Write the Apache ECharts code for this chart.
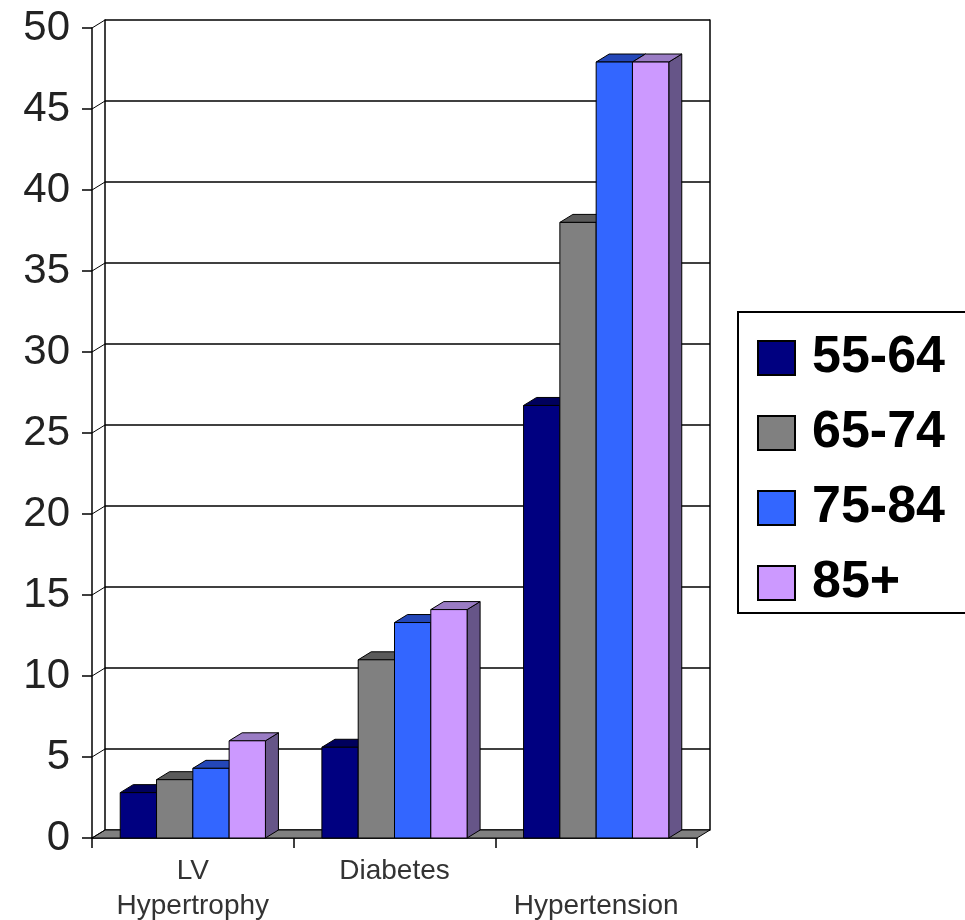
<!DOCTYPE html>
<html>
<head>
<meta charset="utf-8">
<script src="https://cdn.jsdelivr.net/npm/echarts@6/dist/echarts.min.js"></script>
<style>
html, body { margin: 0; padding: 0; background: #fff; }
#chart { width: 965px; height: 920px; }
</style>
</head>
<body>
<div id="chart"></div>
<script>
// data
var categories = ['LV Hypertrophy', 'Diabetes', 'Hypertension'];
var ageGroups = ['55-64', '65-74', '75-84', '85+'];
var age5564 = [2.8, 5.6, 26.7];
var age6574 = [3.6, 11.0, 38.0];
var age7584 = [4.3, 13.3, 47.9];
var age85 = [6.0, 14.1, 47.9];
var yTicks = [0, 5, 10, 15, 20, 25, 30, 35, 40, 45, 50];

var values = [age5564, age6574, age7584, age85];
// front / top / side colours of each group
var faces = [
  ['#000080', '#00005c', '#000050'],
  ['#808080', '#5a5a5a', '#4d4d4d'],
  ['#3366ff', '#2447b8', '#1f3d9e'],
  ['#cc99ff', '#9a7cc4', '#665588']
];
var DX = 13, DY = 8; // depth offset

var chart = echarts.init(document.getElementById('chart'));

function barRender(k) {
  return function (params, api) {
    var band = api.size([1, 0])[0];
    var groupW = band * 0.72;
    var barW = groupW / 4;
    var tip = api.coord([api.value(0), api.value(1)]);
    var base = api.coord([api.value(0), 0]);
    var x0 = tip[0] - groupW / 2 + k * barW;
    var x1 = x0 + barW;
    var yt = tip[1], yb = base[1];
    var st = { stroke: '#000', lineWidth: 1 };
    return {
      type: 'group',
      children: [
        { type: 'polygon', shape: { points: [[x1, yt], [x1 + DX, yt - DY], [x1 + DX, yb - DY], [x1, yb]] },
          style: echarts.util.extend({ fill: faces[k][2] }, st) },
        { type: 'polygon', shape: { points: [[x0, yt], [x0 + DX, yt - DY], [x1 + DX, yt - DY], [x1, yt]] },
          style: echarts.util.extend({ fill: faces[k][1] }, st) },
        { type: 'rect', shape: { x: x0, y: yt, width: barW, height: yb - yt },
          style: echarts.util.extend({ fill: faces[k][0] }, st) }
      ]
    };
  };
}

var series = [];

// floor of the plot
series.push({
  type: 'custom',
  xAxisIndex: 0, yAxisIndex: 0,
  silent: true,
  z: 1,
  data: [[0, 0]],
  renderItem: function (params, api) {
    var cs = params.coordSys;
    var yb = cs.y + cs.height;
    return {
      type: 'polygon',
      shape: { points: [[cs.x, yb], [cs.x + DX, yb - DY], [cs.x + cs.width + DX, yb - DY], [cs.x + cs.width, yb]] },
      style: { fill: '#808080', stroke: '#000', lineWidth: 1 }
    };
  }
});

// little slanted joins from the front ticks to the back wall
series.push({
  type: 'custom',
  xAxisIndex: 0, yAxisIndex: 0,
  silent: true,
  z: 1,
  data: yTicks.map(function (v) { return [0, v]; }),
  renderItem: function (params, api) {
    var cs = params.coordSys;
    var y = api.coord([0, api.value(1)])[1];
    return {
      type: 'line',
      shape: { x1: cs.x, y1: y, x2: cs.x + DX, y2: y - DY },
      style: { stroke: '#000', lineWidth: 1 }
    };
  }
});

for (var k = 0; k < ageGroups.length; k++) {
  series.push({
    name: ageGroups[k],
    type: 'custom',
    xAxisIndex: 0, yAxisIndex: 0,
    z: 3,
    itemStyle: { color: faces[k][0], borderColor: '#000', borderWidth: 1 },
    data: values[k].map(function (v, i) { return [i, v]; }),
    renderItem: barRender(k)
  });
}

chart.setOption({
  backgroundColor: '#fff',
  animation: false,
  textStyle: { fontFamily: 'Liberation Sans, Arial, sans-serif' },
  grid: [
    { left: 92, right: 268, top: 28, bottom: 82, outerBoundsMode: 'none' },          // front
    { left: 92 + DX, right: 268 - DX, top: 28 - DY, bottom: 82 + DY, outerBoundsMode: 'none' } // back wall
  ],
  legend: {
    orient: 'vertical',
    left: 738,
    top: 312,
    padding: [20, 60, 4, 19],
    borderColor: '#000',
    borderWidth: 2,
    itemWidth: 37,
    itemHeight: 34,
    itemGap: 23,
    icon: 'rect',
    data: ageGroups,
    textStyle: { fontSize: 52, fontWeight: 'bold', color: '#000', lineHeight: 52, padding: [0, 0, 0, 12] }
  },
  xAxis: [
    {
      gridIndex: 0,
      type: 'category',
      data: categories,
      boundaryGap: true,
      axisLine: { show: true, lineStyle: { color: '#000', width: 1.5 } },
      axisTick: { show: true, alignWithLabel: false, length: 10, lineStyle: { color: '#000', width: 1.5 } },
      axisLabel: {
        interval: 0,
        margin: 16,
        fontSize: 28,
        lineHeight: 35,
        color: '#333',
        formatter: function (v, i) {
          if (v === 'LV Hypertrophy') return 'LV\nHypertrophy';
          if (i === 2) return '\n' + v;
          return v;
        }
      },
      splitLine: { show: false }
    },
    { gridIndex: 1, type: 'category', data: categories, show: false }
  ],
  yAxis: [
    {
      gridIndex: 0,
      type: 'value',
      min: 0, max: 50, interval: 5,
      axisLine: { show: true, lineStyle: { color: '#000', width: 1.5 } },
      axisTick: { show: true, length: 10, lineStyle: { color: '#000', width: 1.5 } },
      axisLabel: { fontSize: 42, color: '#222', margin: 22 },
      splitLine: { show: false }
    },
    {
      gridIndex: 1,
      type: 'value',
      min: 0, max: 50, interval: 5,
      axisLine: { show: true, lineStyle: { color: '#000', width: 1.5 } },
      axisTick: { show: false },
      axisLabel: { show: false },
      splitLine: { show: true, lineStyle: { color: '#000', width: 1.5 } }
    },
    {
      gridIndex: 1,
      type: 'value',
      position: 'right',
      min: 0, max: 50, interval: 5,
      axisLine: { show: true, lineStyle: { color: '#000', width: 1.5 } },
      axisTick: { show: false },
      axisLabel: { show: false },
      splitLine: { show: false }
    }
  ],
  series: series
});
</script>
</body>
</html>
